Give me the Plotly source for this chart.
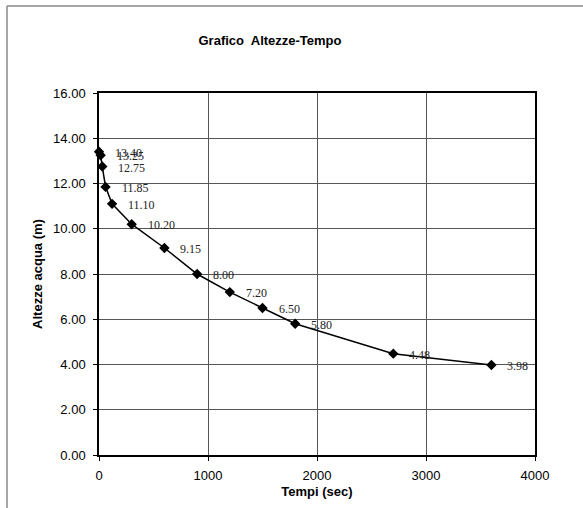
import plotly.graph_objects as go

tempi = [0, 15, 30, 60, 120, 300, 600, 900, 1200, 1500, 1800, 2700, 3600]
altezze = [13.40, 13.25, 12.75, 11.85, 11.10, 10.20, 9.15, 8.00, 7.20, 6.50, 5.80, 4.48, 3.98]
x_ticks = [0, 1000, 2000, 3000, 4000]
y_ticks = [0, 2, 4, 6, 8, 10, 12, 14, 16]

W, H = 583, 508
L, R, T, B = 99, 48, 93, 53
pw, ph = W - L - R, H - T - B

fig = go.Figure()
fig.add_trace(go.Scatter(
    x=tempi, y=altezze, mode="lines+markers",
    line=dict(color="black", width=1.5),
    marker=dict(symbol="diamond", size=8, color="black"),
    cliponaxis=False, hoverinfo="skip", showlegend=False,
))

for t, h in zip(tempi, altezze):
    fig.add_annotation(x=t, y=h, text=f"{h:.2f}", showarrow=False,
                       xanchor="left", yanchor="middle", xshift=14, yshift=-1,
                       font=dict(family="Liberation Serif", size=12, color="#222"))

def px_x(p):
    return (p - L) / pw

def px_y(p):
    return (H - B - p) / ph

# outer chart border (left and top)
fig.add_shape(type="line", xref="paper", yref="paper",
              x0=px_x(7), y0=px_y(6), x1=px_x(7), y1=px_y(H + 5),
              line=dict(color="#888", width=1.5))
fig.add_shape(type="line", xref="paper", yref="paper",
              x0=px_x(7), y0=px_y(6), x1=px_x(W + 5), y1=px_y(6),
              line=dict(color="#888", width=1.5))

fig.update_layout(
    width=W, height=H,
    margin=dict(l=L, r=R, t=T, b=B),
    paper_bgcolor="white", plot_bgcolor="white",
    font=dict(family="Liberation Sans, Arial", color="black"),
    title=dict(text="<b>Grafico  Altezze-Tempo</b>", x=px_x(270), xanchor="center",
               xref="paper", y=1 - 40 / H, yanchor="middle",
               font=dict(size=13, family="Liberation Sans, Arial", color="black")),
    xaxis=dict(range=[0, 4000], tickvals=x_ticks, ticktext=[str(v) for v in x_ticks],
               showgrid=True, gridcolor="#555", gridwidth=1,
               showline=True, linecolor="black", linewidth=1.5, mirror=True,
               ticks="outside", ticklen=4, tickcolor="black",
               tickfont=dict(size=13), zeroline=False, ticklabelstandoff=4,
               title=dict(text="<b>Tempi (sec)</b>", font=dict(size=13), standoff=5)),
    yaxis=dict(range=[0, 16], tickvals=y_ticks, ticktext=[f"{v:.2f}" for v in y_ticks],
               showgrid=True, gridcolor="#555", gridwidth=1,
               showline=True, linecolor="black", linewidth=1.5, mirror=True,
               ticks="outside", ticklen=4, tickcolor="black",
               tickfont=dict(size=13), zeroline=False, ticklabelstandoff=5,
               title=dict(text="<b>Altezze acqua (m)</b>", font=dict(size=13), standoff=8)),
)

fig.write_html("out.html")
